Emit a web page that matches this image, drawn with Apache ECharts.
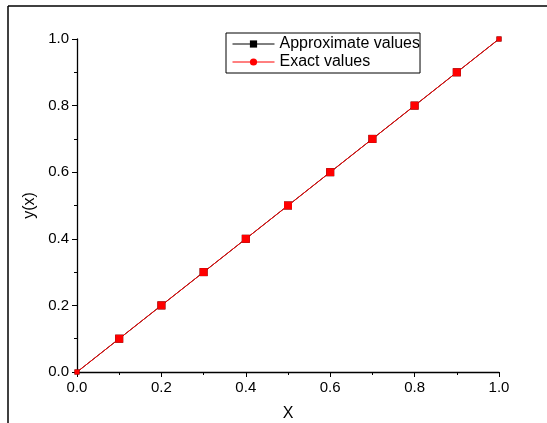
<!DOCTYPE html>
<html>
<head>
<meta charset="utf-8">
<script src="https://cdn.jsdelivr.net/npm/echarts@6/dist/echarts.min.js"></script>
<style>
  html, body { margin: 0; padding: 0; background: #fff; }
  #chart { width: 547px; height: 423px; }
</style>
</head>
<body>
<div id="chart"></div>
<script>
const xValues = [0.0, 0.1, 0.2, 0.3, 0.4, 0.5, 0.6, 0.7, 0.8, 0.9, 1.0]
const approxValues = [0.0, 0.1, 0.2, 0.3, 0.4, 0.5, 0.6, 0.7, 0.8, 0.9, 1.0]
const exactValues = [0.0, 0.1, 0.2, 0.3, 0.4, 0.5, 0.6, 0.7, 0.8, 0.9, 1.0]

const font = 'Liberation Sans, Arial, sans-serif'
const chart = echarts.init(document.getElementById('chart'))

// endpoints sit on the frame and look clipped in the original
const markSize = (v, p) => (p.dataIndex === 0 || p.dataIndex === xValues.length - 1) ? 5 : 8

const axisCommon = {
  type: 'value',
  min: 0,
  max: 1,
  interval: 0.2,
  axisLine: { show: true, lineStyle: { color: '#000', width: 1.3 } },
  axisTick: { show: true, inside: false, length: 5, lineStyle: { color: '#000', width: 1 } },
  minorTick: { show: true, splitNumber: 2, length: 3, lineStyle: { color: '#000', width: 1 } },
  splitLine: { show: false },
  axisLabel: { color: '#000', fontFamily: font, fontSize: 15, formatter: v => v.toFixed(1) },
  nameTextStyle: { color: '#000', fontFamily: font, fontSize: 16 }
}

chart.setOption({
  animation: false,
  grid: { left: 77, right: 48, top: 39, bottom: 51, containLabel: false, outerBoundsMode: 'none' },
  graphic: [
    { type: 'line', shape: { x1: 8, y1: 6, x2: 547, y2: 6 }, style: { stroke: '#000', lineWidth: 1.5 } },
    { type: 'line', shape: { x1: 8, y1: 6, x2: 8, y2: 423 }, style: { stroke: '#000', lineWidth: 1.5 } }
  ],
  legend: {
    left: 226,
    top: 33,
    orient: 'vertical',
    itemGap: 2,
    itemWidth: 42,
    itemHeight: 9,
    padding: [3, 0, 3, 6],
    borderColor: '#000',
    borderWidth: 1,
    borderRadius: 0,
    lineStyle: { width: 1 },
    textStyle: { color: '#000', fontFamily: font, fontSize: 16, padding: [0, 0, 0, 0] },
    data: ['Approximate values', 'Exact values']
  },
  xAxis: Object.assign({}, axisCommon, {
    name: 'X', nameLocation: 'middle', nameGap: 34,
    axisLabel: Object.assign({}, axisCommon.axisLabel, { margin: 8 })
  }),
  yAxis: Object.assign({}, axisCommon, {
    name: 'y(x)', nameLocation: 'middle', nameGap: 38,
    axisLabel: Object.assign({}, axisCommon.axisLabel, { margin: 8 })
  }),
  series: [
    {
      name: 'Approximate values',
      type: 'line',
      data: xValues.map((x, i) => [x, approxValues[i]]),
      symbol: 'rect',
      symbolSize: markSize,
      itemStyle: { color: '#000' },
      lineStyle: { color: '#000', width: 1 }
    },
    {
      // legend only: the legend marker for exact values is a circle
      name: 'Exact values',
      type: 'line',
      data: [],
      symbol: 'circle',
      itemStyle: { color: '#ff0000' },
      lineStyle: { color: '#ff0000', width: 1 }
    },
    {
      name: 'Exact values',
      type: 'line',
      data: xValues.map((x, i) => [x, exactValues[i]]),
      symbol: 'rect',
      symbolSize: markSize,
      itemStyle: { color: '#ff0000' },
      lineStyle: { color: '#ff0000', width: 1 }
    }
  ]
})
</script>
</body>
</html>
